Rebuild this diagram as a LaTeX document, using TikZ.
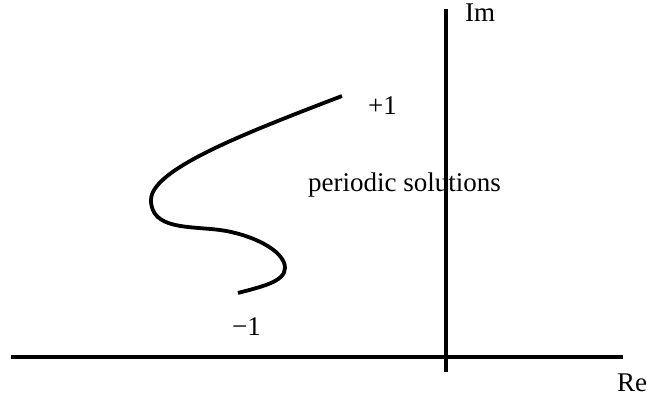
\documentclass[tikz,border=0pt]{standalone}
\usepackage{fontspec}
\setmainfont{Liberation Serif}
\begin{document}
\begin{tikzpicture}[x=1pt,y=-1pt,
  lbl/.style={inner sep=0pt,anchor=base west,font=\fontsize{27}{32}\selectfont},
  axis/.style={line width=4.5pt},
  curve/.style={line width=3.8pt,line cap=butt}]
\useasboundingbox (0,0) rectangle (651,398);
\coordinate (xl) at (11,357);
\coordinate (xr) at (623,357);
\coordinate (yt) at (446,9);
\coordinate (yb) at (446,372);
\draw[axis] (xl) -- (xr);
\draw[axis] (yt) -- (yb);
\coordinate (c0) at (342,96);
\coordinate (c1) at (151,200);
\coordinate (c2) at (220,230);
\coordinate (c3) at (285,268);
\coordinate (c4) at (238,293);
\draw[curve] (c0) .. controls (240,135) and (151,170) .. (c1)
  .. controls (151,230) and (190,226) .. (c2)
  .. controls (250,234) and (285,250) .. (c3)
  .. controls (285,282) and (260,287) .. (c4);
\node[lbl] (im) at (465,22) {Im};
\node[lbl] (re) at (617,391) {Re};
\node[lbl] (plus) at (368,115) {+1};
\node[lbl] (minus) at (232,335) {−1};
\node[lbl] (per) at (308,192) {periodic solutions};
\end{tikzpicture}
\end{document}
